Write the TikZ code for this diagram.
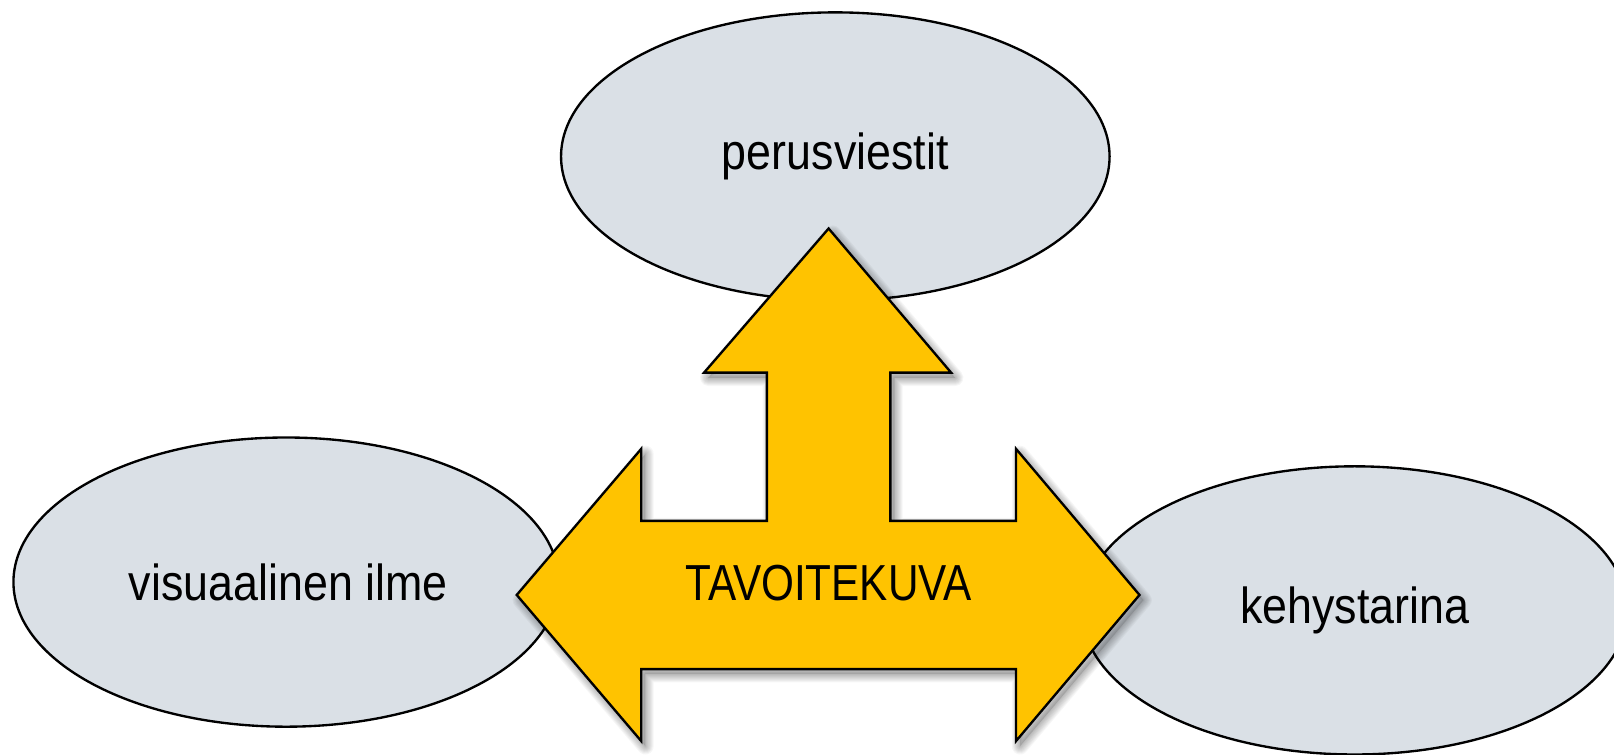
\documentclass[tikz,border=0pt]{standalone}
\usepackage{fontspec}
\setmainfont{Liberation Sans}[FakeStretch=0.885]
\newfontfamily\corefont{Liberation Sans}[FakeStretch=0.835]
\usetikzlibrary{shapes.geometric}
\definecolor{bubblefill}{RGB}{218,224,230}
\definecolor{arrowfill}{RGB}{255,195,0}
\newcommand\diaglabelfont{\fontsize{28}{34}\selectfont}
\tikzset{
  bubble/.style={ellipse, draw=black, line width=1.3pt, fill=bubblefill,
    inner sep=0pt, font=\diaglabelfont},
  tarrow/.pic={
    \path[pic actions] (805,222) -- (924,362) -- (865,362) -- (865,506)
      -- (987,506) -- (987,436) -- (1107,578) -- (987,720) -- (987,650)
      -- (623,650) -- (623,720) -- (502,578) -- (623,436) -- (623,506)
      -- (745,506) -- (745,362) -- (684,362) -- cycle;
  }
}
\begin{document}
\begin{tikzpicture}[x=0.02cm,y=-0.02cm]
  \useasboundingbox (0,0) rectangle (1568,733);
  \clip (0,0) rectangle (1568,733);
  \fill[white] (0,0) rectangle (1568,733);

  % the three surrounding themes
  \node[bubble, minimum width=10.66cm, minimum height=5.6cm]
    (perus) at (811.5,152) {perusviestit};
  \node[bubble, minimum width=10.6cm, minimum height=5.62cm]
    (visu) at (278,565.5) {\hspace*{0.08cm}visuaalinen ilme};
  \node[bubble, minimum width=10.6cm, minimum height=5.6cm]
    (kehys) at (1316,593) {kehystarina};

  % soft shadow under the three-way arrow
  \pic[shift={(4,5)}, fill=black, fill opacity=0.12, draw=none] at (0,0) {tarrow};
  \foreach \w in {2,4,...,16}
    \pic[shift={(4,5)}, draw=black, draw opacity=0.035, line width=\w*0.02cm,
         line join=round] at (0,0) {tarrow};

  % the three-way arrow itself
  \pic[fill=arrowfill, draw=black, line width=1.3pt, line join=miter] at (0,0) {tarrow};
  \node[font=\corefont\diaglabelfont, inner sep=0pt] (core) at (805,566) {TAVOITEKUVA};
\end{tikzpicture}
\end{document}
